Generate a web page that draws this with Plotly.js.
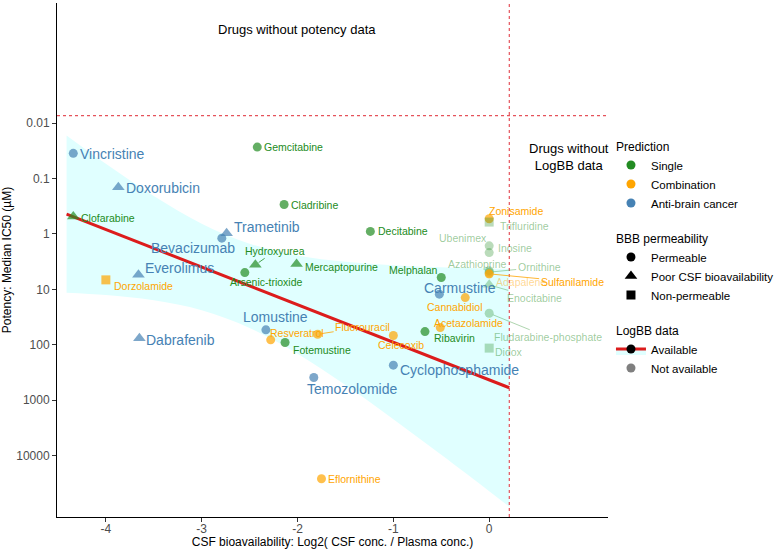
<!DOCTYPE html>
<html>
<head>
<meta charset="utf-8">
<script src="https://cdn.plot.ly/plotly-3.0.1.min.js"></script>
<style>
  body { margin: 0; background: #fff; }
  #graph { width: 778px; height: 549px; }
</style>
</head>
<body>
<div id="graph"></div>
<script>
// drug table
var drugs = ['Vincristine','Doxorubicin','Clofarabine','Gemcitabine','Cladribine','Trametinib',
  'Bevacizumab','Hydroxyurea','Arsenic-trioxide','Mercaptopurine','Everolimus','Dorzolamide',
  'Dabrafenib','Lomustine','Resveratrol','Fotemustine','Fluorouracil','Temozolomide',
  'Eflornithine','Celecoxib','Cyclophosphamide','Decitabine','Melphalan','Carmustine',
  'Cannabidiol','Ribavirin','Acetazolamide','Zonisamide','Trifluridine','Ubenimex','Inosine',
  'Azathioprine','Ornithine','Adapalene','Sulfanilamide','Enocitabine','Fludarabine-phosphate','Didox'];

var csfRatio = [-4.34,-3.87,-4.34,-2.42,-2.14,-2.74,
  -2.79,-2.44,-2.55,-2.01,-3.66,-4.0,
  -3.65,-2.33,-2.28,-2.13,-1.79,-1.83,
  -1.75,-1.0,-1.0,-1.24,-0.50,-0.52,
  -0.25,-0.67,-0.51,0.0,0.0,0.0,0.0,
  0.0,0.0,0.0,0.0,0.0,0.0,0.0];

var ic50 = [0.035,0.143,0.485,0.027,0.294,0.97,
  1.19,3.61,4.98,3.47,5.47,6.74,
  76,53.8,81.6,91.2,64.6,391,
  26300,68.2,234,0.90,6.12,12.2,
  14.1,57.8,49,0.53,0.61,1.64,2.17,
  4.6,4.9,5.3,5.25,8.3,27,115];

var prediction = ['Anti-brain cancer','Anti-brain cancer','Single','Single','Single','Anti-brain cancer',
  'Anti-brain cancer','Single','Single','Single','Anti-brain cancer','Combination',
  'Anti-brain cancer','Anti-brain cancer','Combination','Single','Combination','Anti-brain cancer',
  'Combination','Combination','Anti-brain cancer','Single','Single','Anti-brain cancer',
  'Combination','Single','Combination','Combination','Single','Single','Single',
  'Single','Single','Combination','Combination','Single','Single','Single'];

var bbb = ['Permeable','Poor CSF bioavailability','Poor CSF bioavailability','Permeable','Permeable','Poor CSF bioavailability',
  'Permeable','Poor CSF bioavailability','Permeable','Poor CSF bioavailability','Poor CSF bioavailability','Non-permeable',
  'Poor CSF bioavailability','Permeable','Permeable','Permeable','Permeable','Permeable',
  'Permeable','Permeable','Permeable','Permeable','Permeable','Permeable',
  'Permeable','Permeable','Permeable','Permeable','Non-permeable','Permeable','Permeable',
  'Permeable','Permeable','Permeable','Permeable','Poor CSF bioavailability','Permeable','Non-permeable'];

var logbb = ['Available','Available','Available','Available','Available','Available',
  'Available','Available','Available','Available','Available','Available',
  'Available','Available','Available','Available','Available','Available',
  'Available','Available','Available','Available','Available','Available',
  'Available','Available','Available','Available','Not available','Not available','Not available',
  'Not available','Not available','Not available','Available','Not available','Not available','Not available'];

// linear fit and its confidence band
var fitX = [-4.41, 0.21];
var fitY = [0.437, 598];
var bandX = [-4.41,-4,-3.5,-3,-2.5,-2,-1.5,-1,-0.5,0,0.21];
var bandUpper = [0.0166,0.054,0.207,0.653,1.50,2.45,3.19,3.68,4.00,4.20,4.26];
var bandLower = [11.5,12.7,15.8,23.9,49.8,145,535,2210,9730,44200,84100];

var xTicks = [-4,-3,-2,-1,0];
var yTicks = [0.01,0.1,1,10,100,1000,10000];
var yTickText = ['0.01','0.1','1','10','100','1000','10000'];

var predOrder = ['Single','Combination','Anti-brain cancer'];
var bbbOrder = ['Permeable','Poor CSF bioavailability','Non-permeable'];

// styles
var predRGB = {'Single':[34,139,34], 'Combination':[255,165,0], 'Anti-brain cancer':[70,130,180]};
var symbolOf = {'Permeable':'circle', 'Poor CSF bioavailability':'triangle-up', 'Non-permeable':'square'};
var sizeOf = {'Permeable':9, 'Poor CSF bioavailability':11, 'Non-permeable':9};
var alphaOf = {'Available':1, 'Not available':0.45};

// label placement: [dx, dy, anchor, arrow]  (px from marker, dy down)
var labelPos = {
  'Vincristine':[5,1,'left',0], 'Doxorubicin':[6,1,'left',0], 'Clofarabine':[6,1,'left',0],
  'Gemcitabine':[5,0,'left',0], 'Cladribine':[5,0,'left',0], 'Trametinib':[5,-6,'left',0],
  'Bevacizumab':[-29,10,'center',0], 'Hydroxyurea':[20,-14,'center',1], 'Arsenic-trioxide':[22,9,'center',0],
  'Mercaptopurine':[6,3,'left',0], 'Everolimus':[5,-7,'left',0], 'Dorzolamide':[6,6,'left',0],
  'Dabrafenib':[5,2,'left',0], 'Lomustine':[10,-13,'center',1], 'Resveratrol':[26,-7,'center',0],
  'Fotemustine':[37,7,'center',0], 'Fluorouracil':[45,-7,'center',1], 'Temozolomide':[38,11,'center',0],
  'Eflornithine':[5,0,'left',0], 'Celecoxib':[8,9,'center',0], 'Cyclophosphamide':[5,5,'left',0],
  'Decitabine':[6,0,'left',0], 'Melphalan':[-28,-8,'center',0], 'Carmustine':[21,-6,'center',0],
  'Cannabidiol':[-11,9,'center',0], 'Ribavirin':[30,6,'center',0], 'Acetazolamide':[28,-5,'center',0],
  'Zonisamide':[27,-8,'center',0], 'Trifluridine':[9,4,'left',0], 'Ubenimex':[-26,-8,'center',0],
  'Inosine':[26,-5,'center',0], 'Azathioprine':[-12,-7,'center',0], 'Ornithine':[50,-5,'center',1],
  'Adapalene':[32,8,'center',0], 'Sulfanilamide':[83,8,'center',1], 'Enocitabine':[45,13,'center',1],
  'Fludarabine-phosphate':[59,24,'center',1], 'Didox':[20,4,'center',0]
};

function rgba(c, a){ return 'rgba(' + c[0] + ',' + c[1] + ',' + c[2] + ',' + a + ')'; }

var FONT = 'Liberation Sans, Arial, sans-serif';
var lineRed = '#DC1C1C';
var dashRed = '#E5535B';

var colors = [], symbols = [], sizes = [];
for (var i = 0; i < drugs.length; i++) {
  colors.push(rgba(predRGB[prediction[i]], alphaOf[logbb[i]]));
  symbols.push(symbolOf[bbb[i]]);
  sizes.push(sizeOf[bbb[i]]);
}

var data = [];

// confidence band
data.push({ x: bandX, y: bandUpper, mode: 'lines', line: {width: 0, shape: 'spline'},
  showlegend: false, hoverinfo: 'skip' });
data.push({ x: bandX, y: bandLower, mode: 'lines', line: {width: 0, shape: 'spline'},
  fill: 'tonexty', fillcolor: '#E0FFFF', showlegend: false, hoverinfo: 'skip' });

// fit line
data.push({ x: fitX, y: fitY, mode: 'lines', line: {color: lineRed, width: 3},
  showlegend: false, hoverinfo: 'skip' });

// drugs
data.push({ x: csfRatio, y: ic50, text: drugs, mode: 'markers', showlegend: false,
  marker: {color: colors, symbol: symbols, size: sizes, line: {width: 0}} });

// legend entries
predOrder.forEach(function(p){
  data.push({ x: [null], y: [null], mode: 'markers', name: p, legendgroup: 'pred',
    legendgrouptitle: {text: 'Prediction', font: {size: 12, color: '#000'}},
    marker: {color: rgba(predRGB[p], 1), symbol: 'circle', size: 9} });
});
bbbOrder.forEach(function(b){
  data.push({ x: [null], y: [null], mode: 'markers', name: b, legendgroup: 'bbb',
    legendgrouptitle: {text: 'BBB permeability', font: {size: 12, color: '#000'}},
    marker: {color: '#000', symbol: symbolOf[b], size: sizeOf[b]} });
});
data.push({ x: [null], y: [null], mode: 'lines+markers', name: 'Available', legendgroup: 'logbb',
  legendgrouptitle: {text: 'LogBB data', font: {size: 12, color: '#000'}},
  fill: 'toself', fillcolor: '#E0FFFF',
  line: {color: lineRed, width: 3}, marker: {color: '#000', size: 9} });
data.push({ x: [null], y: [null], mode: 'markers', name: 'Not available', legendgroup: 'logbb',
  legendgrouptitle: {text: 'LogBB data', font: {size: 12, color: '#000'}},
  marker: {color: 'rgba(0,0,0,0.5)', size: 9} });

// labels
var annotations = [];
for (var j = 0; j < drugs.length; j++) {
  var p = labelPos[drugs[j]];
  var big = prediction[j] === 'Anti-brain cancer';
  var col = colors[j];
  var a = {
    x: csfRatio[j], y: Math.log10(ic50[j]), xref: 'x', yref: 'y',
    text: drugs[j], font: {family: FONT, size: big ? 14 : 10.5, color: col},
    yanchor: 'middle'
  };
  if (p[3]) {
    a.showarrow = true; a.ax = p[0]; a.ay = p[1]; a.arrowhead = 0;
    a.arrowwidth = 0.8; a.arrowcolor = col; a.standoff = 4;
  } else {
    a.showarrow = false; a.xanchor = p[2]; a.xshift = p[0]; a.yshift = -p[1];
  }
  annotations.push(a);
}
annotations.push({ x: -2.01, y: -3.70, xref: 'x', yref: 'y', showarrow: false,
  text: 'Drugs without potency data', font: {family: FONT, size: 13, color: '#000'} });
annotations.push({ x: 0.83, y: -1.39, xref: 'x', yref: 'y', showarrow: false,
  text: 'Drugs without<br>LogBB data', font: {family: FONT, size: 13, color: '#000'} });

var layout = {
  width: 778, height: 549,
  margin: {l: 57, r: 170, t: 3, b: 32, autoexpand: false},
  paper_bgcolor: '#fff', plot_bgcolor: '#fff',
  font: {family: FONT, size: 12, color: '#000'},
  xaxis: {
    range: [-4.51, 1.24], tickvals: xTicks, ticktext: ['-4','-3','-2','-1','0'],
    showgrid: false, zeroline: false, showline: true, linecolor: '#000', linewidth: 1,
    ticks: 'outside', ticklen: 4, tickcolor: '#333', tickfont: {size: 12, color: '#4D4D4D'},
    ticklabelstandoff: -3, automargin: false,
    title: {text: 'CSF bioavailability: Log2( CSF conc. / Plasma conc.)', font: {size: 12, color: '#000'}, standoff: 0}
  },
  yaxis: {
    type: 'log', range: [5.11, -4.17], tickvals: yTicks, ticktext: yTickText,
    showgrid: false, zeroline: false, showline: true, linecolor: '#000', linewidth: 1,
    ticks: 'outside', ticklen: 4, tickcolor: '#333', tickfont: {size: 12, color: '#4D4D4D'},
    automargin: false,
    title: {text: 'Potency: Median IC50 (µM)', font: {size: 12, color: '#000'}, standoff: 6}
  },
  shapes: [
    {type: 'line', xref: 'paper', x0: 0, x1: 1, yref: 'y', y0: 0.0073, y1: 0.0073,
      line: {color: dashRed, width: 1.2, dash: '3px,3px'}},
    {type: 'line', xref: 'x', x0: 0.21, x1: 0.21, yref: 'paper', y0: 0, y1: 1,
      line: {color: dashRed, width: 1.2, dash: '3px,3px'}}
  ],
  annotations: annotations,
  showlegend: true,
  legend: {x: 1.0054, xanchor: 'left', y: 0.75, yanchor: 'top', tracegroupgap: 16,
    traceorder: 'grouped', font: {size: 11.5, color: '#000'}, bgcolor: 'rgba(0,0,0,0)', itemwidth: 30}
};

Plotly.newPlot('graph', data, layout, {staticPlot: true});
</script>
</body>
</html>
